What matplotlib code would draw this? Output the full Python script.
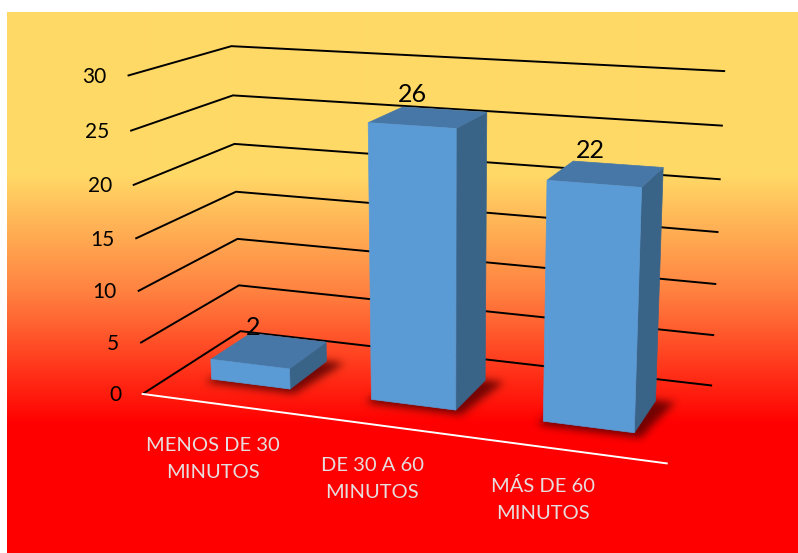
import numpy as np
import matplotlib
matplotlib.use("Agg")
import matplotlib.pyplot as plt
from matplotlib.patches import Polygon
from matplotlib.path import Path

plt.rcParams["font.family"] = ["Lato", "DejaVu Sans"]

CATEGORIES = ["MENOS DE 30\nMINUTOS", "DE 30 A 60\nMINUTOS", "MÁS DE 60\nMINUTOS"]
VALUES = [2, 26, 22]
Y_TICKS = [0, 5, 10, 15, 20, 25, 30]
Y_MAX = 30

W, H = 798, 553
N = len(CATEGORIES)

# corners of the 3D plot box in pixels: (category frac, depth frac, value frac) -> (px, py)
BOX_CORNERS = [
    ((0, 0, 0), (143, 394)),
    ((1, 0, 0), (667, 463)),
    ((1, 1, 0), (712, 386)),
    ((0, 1, 0), (240, 331)),
    ((0, 0, 1), (127, 76)),
    ((0, 1, 1), (232, 46)),
    ((1, 1, 1), (725, 71)),
]

BAR_WIDTH = 0.5
BAR_FRONT, BAR_BACK = 0.29, 0.71

FRONT_COLOR = "#5B9BD5"
TOP_COLOR = "#4777A6"
SIDE_COLOR = "#3A6388"


def fit_camera(corners):
    # plain DLT fit of a 3x4 perspective matrix
    rows = []
    for (X, Y, Z), (u, v) in corners:
        u, v = u / 100.0, v / 100.0
        rows.append([X, Y, Z, 1, 0, 0, 0, 0, -u * X, -u * Y, -u * Z, -u])
        rows.append([0, 0, 0, 0, X, Y, Z, 1, -v * X, -v * Y, -v * Z, -v])
    _, _, vt = np.linalg.svd(np.array(rows, float))
    return vt[-1].reshape(3, 4)


CAM = fit_camera(BOX_CORNERS)


def project(x, d, z):
    p = CAM @ np.array([x / N, d, z / Y_MAX, 1.0])
    return 100 * p[0] / p[2], 100 * p[1] / p[2]


def gaussian_blur(a, sigma):
    r = int(3 * sigma)
    k = np.exp(-0.5 * (np.arange(-r, r + 1) / sigma) ** 2)
    k /= k.sum()
    a = np.apply_along_axis(lambda m: np.convolve(m, k, mode="same"), 0, a)
    a = np.apply_along_axis(lambda m: np.convolve(m, k, mode="same"), 1, a)
    return a


fig = plt.figure(figsize=(W / 100, H / 100), dpi=100)
fig.patch.set_facecolor("white")
ax = fig.add_axes([0, 0, 1, 1])
ax.axis("off")

# --- background gradient (gold -> orange -> red)
stops = [0.0, 0.30, 0.52, 0.76, 1.0]
stop_colors = np.array([
    [255, 217, 102],
    [255, 217, 102],
    [255, 128, 64],
    [255, 0, 0],
    [255, 0, 0],
]) / 255.0
ys = np.linspace(0, 1, H - 12)
rgb = np.stack([np.interp(ys, stops, stop_colors[:, i]) for i in range(3)], axis=-1)
ax.imshow(np.repeat(rgb[:, None, :], 2, axis=1), extent=(7, W, H, 12),
          aspect="auto", interpolation="bilinear", zorder=0)

# --- gridlines on the left and back walls
for t in Y_TICKS:
    pts = [project(0, 0, t), project(0, 1, t), project(N, 1, t)]
    ax.plot([p[0] for p in pts], [p[1] for p in pts], color="black",
            lw=1.4, solid_capstyle="butt", zorder=1)
    ax.annotate(str(t), xy=project(0, 0, t), xytext=(-21, -1),
                textcoords="offset pixels", ha="right", va="center",
                fontsize=15, color="black", zorder=4)

# front floor edge (category axis)
a0, a1 = project(0, 0, 0), project(N, 0, 0)
ax.plot([a0[0], a1[0]], [a0[1], a1[1]], color="white", lw=1.4, zorder=1.5)

# --- soft shadows under the columns
yy, xx = np.mgrid[0:H, 0:W]
grid = np.column_stack([xx.ravel() + 0.5, yy.ravel() + 0.5])
mask = np.zeros(H * W)
pad = 0.03
for i, v in enumerate(VALUES):
    xc = i + 0.5
    x0, x1 = xc - BAR_WIDTH / 2 - pad, xc + BAR_WIDTH / 2 + pad
    foot = [project(x0, BAR_FRONT - pad, 0), project(x1, BAR_FRONT - pad, 0),
            project(x1 + 0.06, BAR_BACK + pad, 0), project(x0, BAR_BACK + pad, 0)]
    foot = [(px + 2, py + 2) for px, py in foot]
    mask = np.maximum(mask, Path(foot).contains_points(grid).astype(float))
shadow = gaussian_blur(mask.reshape(H, W), 4.0)
shadow_img = np.zeros((H, W, 4))
shadow_img[..., 0] = 0.35
shadow_img[..., 3] = np.clip(shadow * 0.85, 0, 1)
ax.imshow(shadow_img, extent=(0, W, H, 0), interpolation="bilinear", zorder=2)

# --- columns
for i, (cat, v) in enumerate(zip(CATEGORIES, VALUES)):
    xc = i + 0.5
    x0, x1 = xc - BAR_WIDTH / 2, xc + BAR_WIDTH / 2
    d0, d1 = BAR_FRONT, BAR_BACK

    front = [project(x0, d0, 0), project(x1, d0, 0), project(x1, d0, v), project(x0, d0, v)]
    top = [project(x0, d0, v), project(x1, d0, v), project(x1, d1, v), project(x0, d1, v)]
    side = [project(x1, d0, 0), project(x1, d1, 0), project(x1, d1, v), project(x1, d0, v)]

    for face, color in [(side, SIDE_COLOR), (top, TOP_COLOR), (front, FRONT_COLOR)]:
        ax.add_patch(Polygon(face, closed=True, facecolor=color,
                             edgecolor=color, lw=0.5, zorder=3))

    ax.annotate(str(v), xy=project(xc, 0.5, v), xytext=(-16, 23),
                textcoords="offset pixels", ha="center", va="center",
                fontsize=18, color="black", zorder=4)

    ax.annotate(cat, xy=project(xc, 0.5, 0), xytext=(-57, -89),
                textcoords="offset pixels", ha="center", va="center",
                fontsize=14.5, color="#E6DEDE", linespacing=1.7, zorder=4)

ax.set_xlim(0, W)
ax.set_ylim(H, 0)

fig.savefig("out.png", dpi=100, facecolor="white")
plt.close(fig)
